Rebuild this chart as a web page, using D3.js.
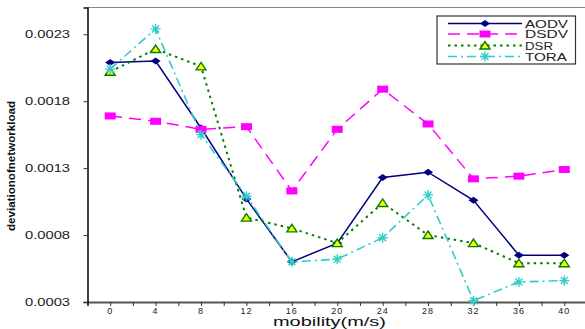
<!DOCTYPE html>
<html>
<head>
<meta charset="utf-8">
<script src="https://cdn.jsdelivr.net/npm/d3@7"></script>
<style>
  html, body { margin: 0; padding: 0; background: #fff; }
  svg { display: block; font-family: Arial, "Liberation Sans", sans-serif; }
</style>
</head>
<body>
<svg id="chart" width="585" height="329"></svg>
<script>
// Mobility speeds (m/s)
const mobility = [0, 4, 8, 12, 16, 20, 24, 28, 32, 36, 40];
const xTickLabels = ["0", "4", "8", "12", "16", "20", "24", "28", "32", "36", "40"];
const yTickValues = [0.0003, 0.0008, 0.0013, 0.0018, 0.0023];
const yTickLabels = ["0.0003", "0.0008", "0.0013", "0.0018", "0.0023"];

// Deviation of network load per routing protocol
const aodv = [0.00209, 0.00210, 0.00160, 0.00107, 0.00060, 0.00074, 0.00123, 0.00127, 0.00106, 0.00065, 0.00065];
const dsdv = [0.00169, 0.00165, 0.00159, 0.00161, 0.00113, 0.00159, 0.00189, 0.00163, 0.00122, 0.00124, 0.00129];
const dsr  = [0.00202, 0.00219, 0.00206, 0.00093, 0.00085, 0.00074, 0.00104, 0.00080, 0.00074, 0.00059, 0.00059];
const tora = [0.00204, 0.00234, 0.00155, 0.00109, 0.00060, 0.00062, 0.00078, 0.00110, 0.00031, 0.00045, 0.00046];

const seriesNames = ["AODV", "DSDV", "DSR", "TORA"];

const svg = d3.select("#chart");
const plotLeft = 87.5, plotRight = 587, plotTop = 7.5, plotBottom = 302;

const x = d3.scaleLinear().domain([-2, 42]).range([plotLeft, plotRight]);
const y = d3.scaleLinear().domain([0.0003, 0.0025]).range([plotBottom, plotTop]);

// frame line along the top
svg.append("line")
  .attr("x1", plotLeft).attr("x2", 585).attr("y1", plotTop).attr("y2", plotTop)
  .attr("stroke", "#8a8a8a").attr("stroke-width", 1.2);

// x axis: ticks every 2, labels every 4
const xAxis = svg.append("g").attr("transform", `translate(0,${plotBottom})`)
  .call(d3.axisBottom(x).tickValues(d3.range(-2, 42.1, 2)).tickSize(4).tickFormat(""));
xAxis.select(".domain").attr("stroke", "#555").attr("stroke-width", 1.8);
xAxis.selectAll(".tick line").attr("stroke", "#333");
svg.append("g").selectAll("text").data(mobility).join("text")
  .attr("x", d => x(d)).attr("y", 313.5)
  .attr("text-anchor", "middle")
  .attr("font-size", 9).attr("letter-spacing", 1).attr("fill", "#222")
  .text((d, i) => xTickLabels[i]);

// y axis
const yAxis = svg.append("g").attr("transform", `translate(${plotLeft},0)`)
  .call(d3.axisLeft(y).tickValues(yTickValues).tickSize(4).tickFormat(""));
yAxis.select(".domain").attr("stroke", "#111").attr("stroke-width", 1.6);
yAxis.selectAll(".tick line").attr("stroke", "#333");
svg.append("g").selectAll("text").data(yTickValues).join("text")
  .attr("x", 25).attr("y", d => y(d) + 3.5)
  .attr("font-size", 10).attr("fill", "#222")
  .attr("textLength", 45).attr("lengthAdjust", "spacingAndGlyphs")
  .text((d, i) => yTickLabels[i]);

// axis titles
svg.append("text")
  .attr("transform", "translate(15,166) rotate(-90)")
  .attr("text-anchor", "middle")
  .attr("font-size", 10).attr("font-weight", "bold").attr("fill", "#111")
  .attr("textLength", 130).attr("lengthAdjust", "spacingAndGlyphs")
  .text("deviationofnetworkload");
svg.append("text")
  .attr("x", 273).attr("y", 325.5)
  .attr("font-size", 12.5).attr("fill", "#111")
  .attr("textLength", 113).attr("lengthAdjust", "spacingAndGlyphs")
  .text("mobility(m/s)");

// series styles
const styles = {
  AODV: { values: aodv, color: "#000080", dash: null, width: 1.5 },
  DSDV: { values: dsdv, color: "#ff00ff", dash: "12,7", width: 1.5 },
  DSR:  { values: dsr,  color: "#008000", dash: "2.5,4", width: 2 },
  TORA: { values: tora, color: "#33cccc", dash: "9,4,2,4", width: 1.6 }
};

function drawMarker(g, name, cx, cy) {
  if (name === "AODV") {
    g.append("path")
      .attr("d", `M${cx - 5},${cy} L${cx},${cy - 3.5} L${cx + 5},${cy} L${cx},${cy + 3.5} Z`)
      .attr("fill", "#000080");
  } else if (name === "DSDV") {
    g.append("rect").attr("x", cx - 5.5).attr("y", cy - 3.5)
      .attr("width", 11).attr("height", 7).attr("fill", "#ff00ff");
  } else if (name === "DSR") {
    g.append("path")
      .attr("d", `M${cx - 5},${cy + 3.5} L${cx},${cy - 4} L${cx + 5},${cy + 3.5} Z`)
      .attr("fill", "#ffff00").attr("stroke", "#008000").attr("stroke-width", 1.4);
  } else {
    const r = 5;
    const p = [
      `M${cx - r},${cy} L${cx + r},${cy}`,
      `M${cx - r * 0.7},${cy - r * 0.7} L${cx + r * 0.7},${cy + r * 0.7}`,
      `M${cx - r * 0.7},${cy + r * 0.7} L${cx + r * 0.7},${cy - r * 0.7}`,
      `M${cx},${cy - r} L${cx},${cy + r}`
    ].join(" ");
    g.append("path").attr("d", p).attr("stroke", "#33cccc").attr("stroke-width", 1.4).attr("fill", "none");
  }
}

const line = d3.line().x((d, i) => x(mobility[i])).y(d => y(d));

seriesNames.forEach(name => {
  const s = styles[name];
  const g = svg.append("g");
  g.append("path").datum(s.values)
    .attr("d", line)
    .attr("fill", "none")
    .attr("stroke", s.color)
    .attr("stroke-width", s.width)
    .attr("stroke-dasharray", s.dash);
  s.values.forEach((v, i) => drawMarker(g, name, x(mobility[i]), y(v)));
});

// legend
const lg = svg.append("g");
lg.append("rect").attr("x", 437).attr("y", 16).attr("width", 138.5).attr("height", 48)
  .attr("fill", "#fff").attr("stroke", "#333").attr("stroke-width", 1.2);
const legendY = [23.5, 34, 45.5, 56.5];
const legendLen = [43, 43, 28, 42];
seriesNames.forEach((name, i) => {
  const s = styles[name];
  const ly = legendY[i];
  lg.append("line").attr("x1", 448).attr("x2", 522).attr("y1", ly).attr("y2", ly)
    .attr("stroke", s.color).attr("stroke-width", s.width).attr("stroke-dasharray", s.dash);
  drawMarker(lg, name, 485, ly);
  lg.append("text").attr("x", 525).attr("y", ly + 4)
    .attr("font-size", 10.5).attr("fill", "#222")
    .attr("textLength", legendLen[i]).attr("lengthAdjust", "spacingAndGlyphs")
    .text(name);
});
</script>
</body>
</html>
